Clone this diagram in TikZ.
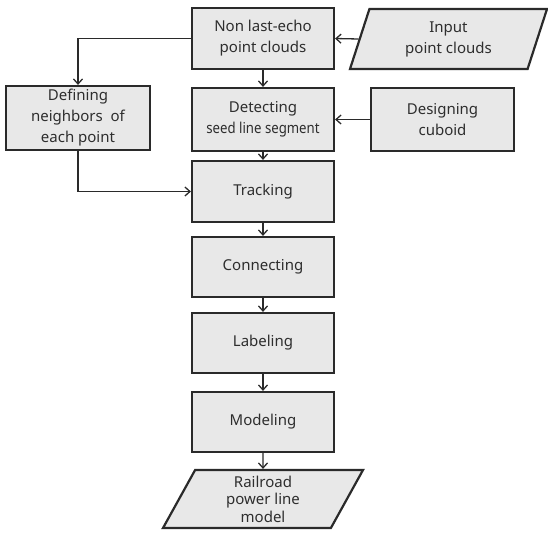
\documentclass[tikz,border=0pt]{standalone}
\usepackage{fontspec}
\usepackage{graphicx}
\setmainfont{Noto Sans}
\usetikzlibrary{arrows.meta,shapes.geometric}
\definecolor{boxfill}{HTML}{E8E8E8}
\definecolor{boxline}{HTML}{2A2A2A}
\definecolor{txt}{HTML}{2E2E2E}
\begin{document}
\begin{tikzpicture}[x=1pt,y=-1pt,
  every node/.style={font=\fontsize{15}{21}\selectfont, text=txt, align=center, inner sep=0pt},
  procbox/.style={draw=boxline, fill=boxfill, line width=2.2pt, minimum width=#1},
  procbox/.default=142pt,
  iobox/.style={draw=boxline, fill=boxfill, line width=2.2pt, trapezium, trapezium stretches body},
  conn/.style={draw=boxline, line width=1.3pt, -{Straight Barb[length=5pt,width=9pt]}},
  plain/.style={draw=boxline, line width=1.3pt}
]
\useasboundingbox (0,0) rectangle (548,533);
\node[procbox, minimum height=61pt] (non) at (263,38.5) {Non last-echo\\point clouds};
\node[iobox, minimum width=197pt, minimum height=60pt, trapezium left angle=61.2, trapezium right angle=118.8] (inp) at (448.5,39) {Input\\point clouds};
\node[procbox=144pt, minimum height=64pt] (def) at (78,118) {Defining\\neighbors~~of\\each point};
\node[procbox, minimum height=63pt] (det) at (263,119.5) {Detecting\\\scalebox{0.88}[1]{seed line segment}};
\node[procbox=143pt, minimum height=63pt] (des) at (442.5,119.5) {Designing\\cuboid};
\node[procbox, minimum height=61pt] (trk) at (263,191.5) {Tracking};
\node[procbox, minimum height=60pt] (con) at (263,267) {Connecting};
\node[procbox, minimum height=60pt] (lab) at (263,343) {Labeling};
\node[procbox, minimum height=60pt] (mod) at (263,422) {Modeling};
\node[iobox, minimum width=200pt, minimum height=58pt, trapezium left angle=55.4, trapezium right angle=124.6, font=\fontsize{15}{17.5}\selectfont] (out) at (263,499) {Railroad\\power line\\model};
\draw[conn] (inp.west) -- (non.east);
\draw[conn] (non.west) -| (def.north);
\draw[conn] (non.south) -- (det.north);
\draw[conn] (des.west) -- (det.east);
\draw[conn] (det.south) -- (trk.north);
\draw[conn] (def.south) |- (trk.west);
\draw[conn] (trk.south) -- (con.north);
\draw[conn] (con.south) -- (lab.north);
\draw[conn] (lab.south) -- (mod.north);
\draw[conn] (mod.south) -- (out.north);
\end{tikzpicture}
\end{document}
